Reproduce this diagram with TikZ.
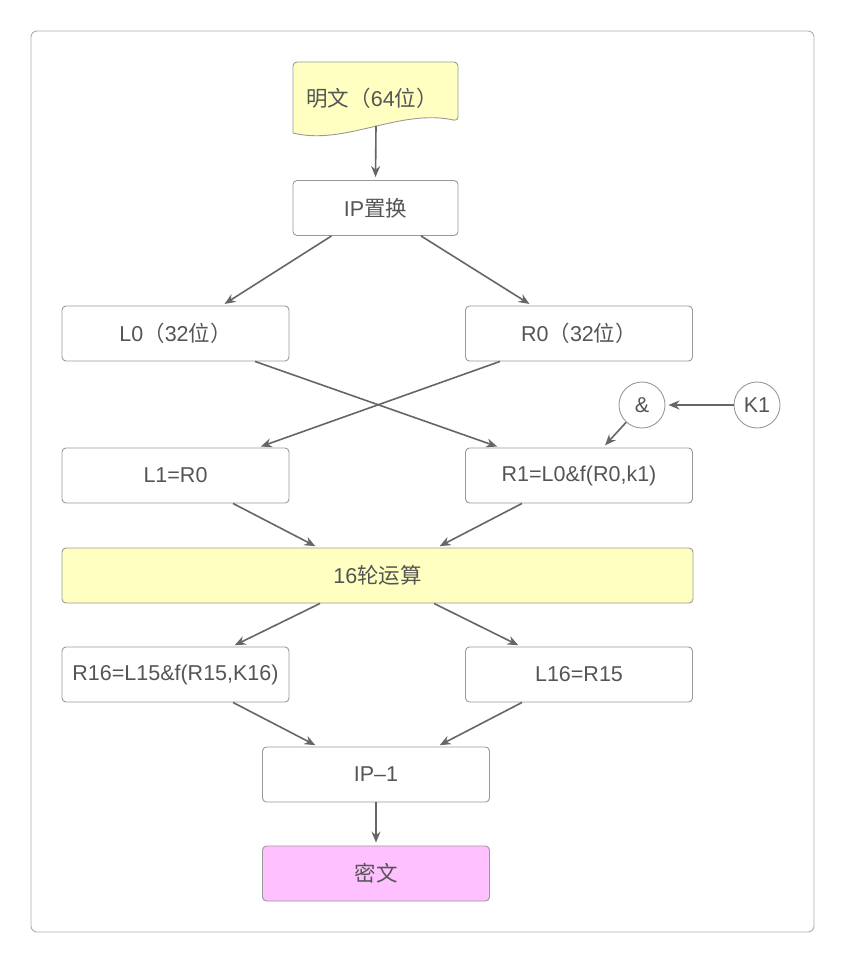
\documentclass[tikz,border=0pt]{standalone}
\usepackage{fontspec}
\setmainfont{Liberation Sans}
\newfontfamily\cjk{Noto Sans CJK SC}
\usetikzlibrary{arrows.meta,calc}
\definecolor{txt}{HTML}{555555}
\definecolor{bord}{HTML}{999999}
\definecolor{arr}{HTML}{666666}
\definecolor{yel}{HTML}{FFFFC2}
\definecolor{pink}{HTML}{FFC0FF}
\begin{document}
\begin{tikzpicture}[x=1pt,y=-1pt,
  every node/.style={font=\fontsize{21.5}{25}\selectfont, text=txt},
  box/.style={draw=bord, line width=0.9pt, rounded corners=4pt, minimum height=55pt, inner sep=0pt},
  w165/.style={minimum width=165pt},
  w227/.style={minimum width=227pt},
  circ/.style={draw=bord, line width=0.9pt, circle, minimum size=46pt, inner sep=0pt},
  conn/.style={draw=arr, line width=1.6pt, -{Stealth[length=11pt,width=9pt]}, shorten >=3pt}
]
\useasboundingbox (0,0) rectangle (845,963);
\draw[draw=bord!80, line width=0.9pt, rounded corners=6pt, fill=white] (31,31) rectangle (814,932);

% document shape
\draw[draw=bord, line width=0.9pt, fill=yel, rounded corners=4pt]
  (293,133) -- (293,62) -- (458,62) -- (458,121) [sharp corners]
  .. controls (400,108) and (345,146) .. (293,133) -- cycle;
\node (m) at (372,98) {{\cjk 明文（}64{\cjk 位）}};
\coordinate (mb) at (376,126);

\node[box,w165] (ip) at (375.5,208) {IP{\cjk 置换}};
\node[box,w227] (l0) at (175.5,333.5) {L0{\cjk （}32{\cjk 位）}};
\node[box,w227] (r0) at (579,333.5) {R0{\cjk （}32{\cjk 位）}};
\node[box,w227] (l1) at (175.5,475.5) {L1=R0};
\node[box,w227] (r1) at (579,475.5) {R1=L0\&f(R0,k1)};
\node[circ] (amp) at (642,405) {\&};
\node[circ] (k1) at (757,405) {K1};
\node[box,fill=yel,minimum width=631pt] (r16x) at (377.5,575.5) {16{\cjk 轮运算}};
\node[box,w227] (r16) at (175.5,674.5) {R16=L15\&f(R15,K16)};
\node[box,w227] (l16) at (579,674.5) {L16=R15};
\node[box,w227] (ipi) at (376,774.5) {IP–1};
\node[box,w227,fill=pink] (c) at (376,873.5) {\cjk 密文};

\draw[conn] (mb) -- (ip.north);
\draw[conn] ([xshift=-44pt]ip.south) -- ([xshift=46.5pt]l0.north);
\draw[conn] ([xshift=45.5pt]ip.south) -- ([xshift=-47pt]r0.north);
\draw[conn] ([xshift=79.5pt]l0.south) -- ([xshift=-79pt]r1.north);
\draw[conn] ([xshift=-79pt]r0.south) -- ([xshift=82.5pt]l1.north);
\draw[conn] (k1) -- (amp);
\draw[conn] (amp) -- ([xshift=24pt]r1.north);
\draw[conn] ([xshift=57.5pt]l1.south) -- ([xshift=-59.5pt]r16x.north);
\draw[conn] ([xshift=-57pt]r1.south) -- ([xshift=59.5pt]r16x.north);
\draw[conn] ([xshift=-57.5pt]r16x.south) -- ([xshift=56.5pt]r16.north);
\draw[conn] ([xshift=56.5pt]r16x.south) -- ([xshift=-58pt]l16.north);
\draw[conn] ([xshift=57.5pt]r16.south) -- ([xshift=-58pt]ipi.north);
\draw[conn] ([xshift=-57pt]l16.south) -- ([xshift=61pt]ipi.north);
\draw[conn] (ipi.south) -- (c.north);
\end{tikzpicture}
\end{document}
